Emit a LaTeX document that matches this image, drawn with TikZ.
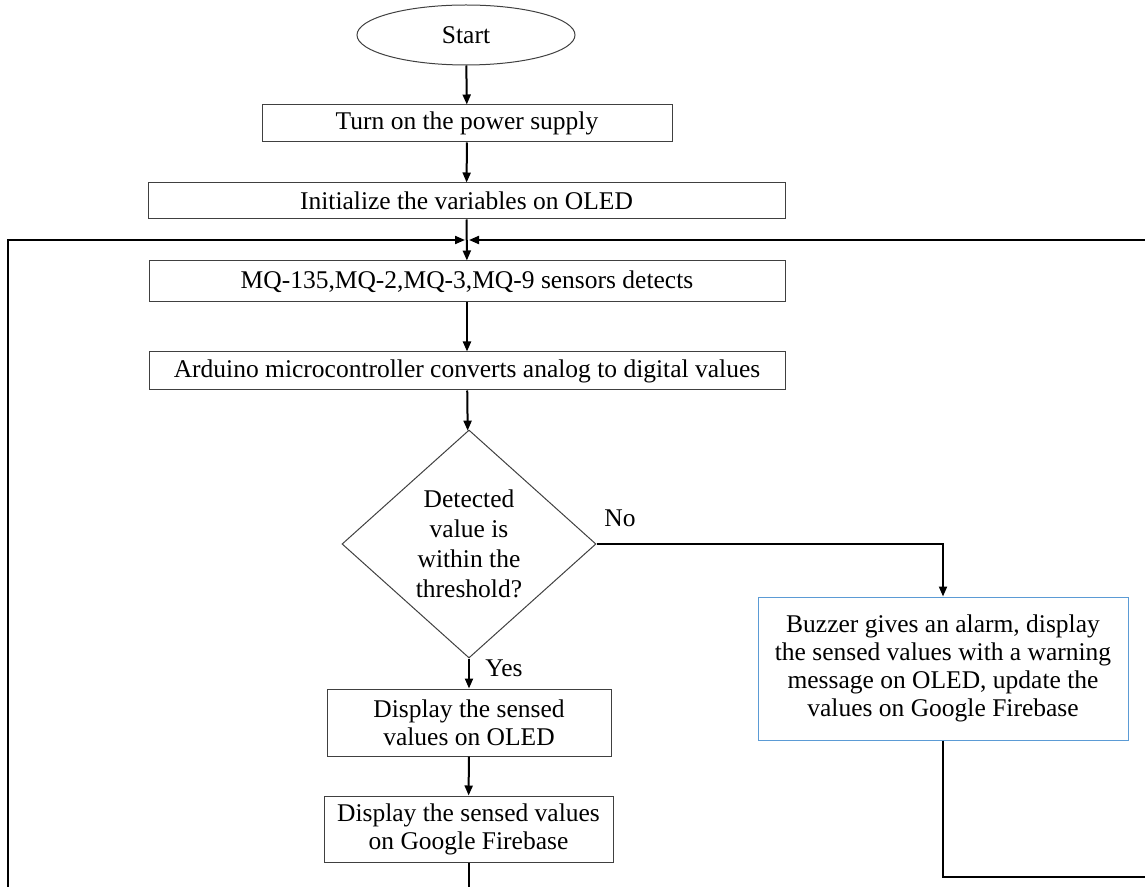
\documentclass[tikz,border=0pt]{standalone}
\usepackage{fontspec}
\setmainfont{Liberation Serif}
\usetikzlibrary{shapes.geometric,arrows.meta}
\definecolor{bordergray}{HTML}{404040}
\definecolor{bluebox}{HTML}{5B9BD5}
\begin{document}
\begin{tikzpicture}[x=0.5pt,y=-0.5pt,
  txt/.style={font=\fontsize{12.75}{14}\selectfont},
  box/.style={txt,draw=bordergray,line width=0.5pt,rectangle,inner sep=0pt,align=center},
  conn/.style={line width=1pt,-{Triangle[length=5pt,width=4pt]}},
  lbl/.style={txt,inner sep=0pt}]
\useasboundingbox (0,0) rectangle (1145,887);
\clip (0,0) rectangle (1145,887);

\node[txt,ellipse,draw=bordergray,line width=0.5pt,inner sep=0pt,minimum width=109pt,minimum height=30pt] (start) at (466,35) {Start};
\node[box,minimum width=205pt,minimum height=18.5pt] (box1) at (467,123.5) {Turn on the power supply};
\node[box,minimum width=318.5pt,minimum height=18pt] (box2) at (466.5,201) {Initialize the variables on OLED};
\node[box,minimum width=318pt,minimum height=20.5pt] (box3) at (467,281.5) {MQ-135,MQ-2,MQ-3,MQ-9 sensors detects};
\node[box,minimum width=318pt,minimum height=19pt] (box4) at (467,371) {Arduino microcontroller converts analog to digital values};
\node[txt,diamond,draw=bordergray,line width=0.5pt,inner sep=0pt,minimum width=127pt,minimum height=114pt,align=center,font=\fontsize{12.75}{15}\selectfont] (dec) at (469,544) {Detected\\value is\\within the\\threshold?};
\node[box,minimum width=142pt,minimum height=33.5pt] (box5) at (469,722.5) {Display the sensed\\values on OLED};
\node[box,minimum width=144.5pt,minimum height=33pt] (box6) at (468.5,829) {Display the sensed values\\on Google Firebase};
\node[box,draw=bluebox,minimum width=185pt,minimum height=71.5pt] (buzz) at (943,668.5) {Buzzer gives an alarm, display\\the sensed values with a warning\\message on OLED, update the\\values on Google Firebase};

\node[lbl] (no) at (620,518) {No};
\node[lbl] (yes) at (504,668) {Yes};

\coordinate (jl) at (465,240);
\coordinate (jr) at (469,240);
\coordinate (lcorner) at (8,910);
\coordinate (ltop) at (8,240);
\coordinate (rcorner) at (1170,877);
\coordinate (rtop) at (1170,240);

\draw[conn] (start) -- (box1);
\draw[conn] (box1) -- (box2);
\draw[conn] (box2) -- (box3);
\draw[conn] (box3) -- (box4);
\draw[conn] (box4) -- (dec);
\draw[conn] (dec.east) -| (buzz.north);
\draw[conn] (dec.south) -- (box5);
\draw[conn] (box5) -- (box6);
\draw[conn] (box6.south) |- (lcorner) -- (ltop) -- (jl);
\draw[conn] (buzz.south) |- (rcorner) -- (rtop) -- (jr);
\end{tikzpicture}
\end{document}
